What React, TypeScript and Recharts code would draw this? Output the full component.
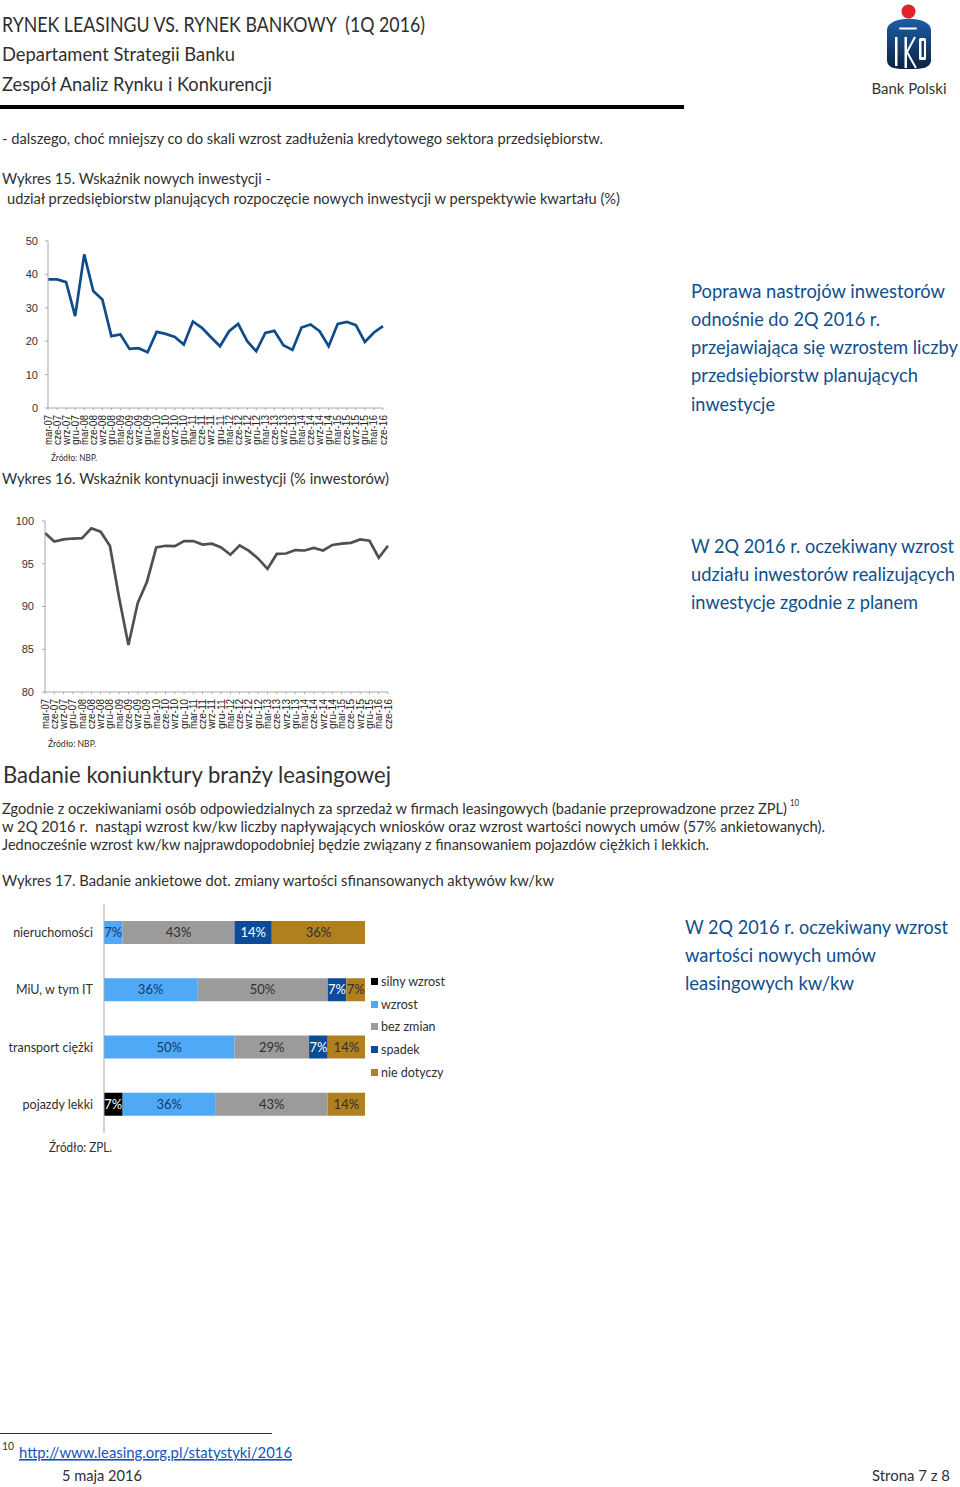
import { LineChart, Line, XAxis, YAxis, BarChart, Bar, LabelList, Legend } from 'recharts';

const quarters = [
  'mar-07', 'cze-07', 'wrz-07', 'gru-07', 'mar-08', 'cze-08', 'wrz-08', 'gru-08',
  'mar-09', 'cze-09', 'wrz-09', 'gru-09', 'mar-10', 'cze-10', 'wrz-10', 'gru-10',
  'mar-11', 'cze-11', 'wrz-11', 'gru-11', 'mar-12', 'cze-12', 'wrz-12', 'gru-12',
  'mar-13', 'cze-13', 'wrz-13', 'gru-13', 'mar-14', 'cze-14', 'wrz-14', 'gru-14',
  'mar-15', 'cze-15', 'wrz-15', 'gru-15', 'mar-16', 'cze-16'
];
const newInvestment = [
  38.5, 38.5, 37.7, 27.5, 46, 35, 32.5, 21.5, 22, 17.7, 17.9, 16.7, 22.8, 22.2, 21.3, 19,
  25.9, 24, 21.2, 18.5, 23, 25.2, 20, 17, 22.5, 23.1, 18.8, 17.4, 24.1, 25, 23, 18.5,
  25.2, 25.8, 24.8, 19.8, 22.6, 24.5
];
const continuedInvestment = [
  98.6, 97.6, 97.85, 97.95, 98, 99.15, 98.75, 97.1, 91, 85.5, 90.4, 92.9, 96.9, 97.1, 97.05, 97.65,
  97.65, 97.25, 97.35, 96.9, 96.05, 97.15, 96.5, 95.6, 94.4, 96.15, 96.2, 96.6, 96.55, 96.85, 96.55, 97.2,
  97.35, 97.45, 97.85, 97.7, 95.7, 97.1
];
const ticksNew = [0, 10, 20, 30, 40, 50];
const ticksContinued = [80, 85, 90, 95, 100];

const assetTypes = ['nieruchomości', 'MiU, w tym IT', 'transport ciężki', 'pojazdy lekki'];
const strongGrowth = [0, 0, 0, 7.14];
const growth = [7.14, 35.71, 50, 35.71];
const noChange = [42.86, 50, 28.57, 42.86];
const decline = [14.29, 7.14, 7.14, 0];
const notApplicable = [35.71, 7.14, 14.29, 14.29];

const newData = quarters.map((q, i) => ({ q, value: newInvestment[i] }));
const continuedData = quarters.map((q, i) => ({ q, value: continuedInvestment[i] }));
const surveyData = assetTypes.map((name, i) => ({
  name,
  s: strongGrowth[i],
  g: growth[i],
  n: noChange[i],
  d: decline[i],
  a: notApplicable[i]
}));

const DOC_FONT = 'Lato, sans-serif';
const AXIS_FONT = '"Liberation Sans", sans-serif';
const TEXT = '#2f2f2f';
const BLUE_TEXT = '#114f8c';
const AXIS = '#a9a9a9';
const SIDE_SIZE = 18.5;

const T = ({ x, x2, y, size = 14.5, fill = TEXT, children, deco }: any) => (
  <text
    x={x}
    y={y}
    fontSize={size}
    fill={fill}
    fontFamily={DOC_FONT}
    textLength={x2 - x}
    lengthAdjust="spacingAndGlyphs"
    textDecoration={deco}
    xmlSpace="preserve"
  >
    {children}
  </text>
);

const QuarterTick = ({ x, y, payload }: any) => (
  <text
    transform={`translate(${x + 3.5},${y + 3}) rotate(-90)`}
    textAnchor="end"
    fontSize={11}
    fill="#222"
    fontFamily={AXIS_FONT}
    textLength={30}
    lengthAdjust="spacingAndGlyphs"
  >
    {payload.value}
  </text>
);

const pct = (v: any) => (v > 0 ? `${Math.round(v)}%` : '');

const SurveyLegend = ({ payload }: any) => (
  <div>
    {(payload || []).map((item: any) => (
      <div key={item.value} style={{ height: 22.7, display: 'flex', alignItems: 'center', fontFamily: DOC_FONT, fontSize: 12.5, color: TEXT, whiteSpace: 'nowrap' }}>
        <span style={{ width: 7, height: 7, background: item.color, marginRight: 3 }} />
        {item.value}
      </div>
    ))}
  </div>
);

const Logo = () => (
  <svg style={{ position: 'absolute', left: 870, top: 0 }} width={80} height={100}>
    <defs>
      <linearGradient id="pko" x1="0" y1="0" x2="0" y2="1">
        <stop offset="0" stopColor="#1b5ea6" />
        <stop offset="1" stopColor="#0c2341" />
      </linearGradient>
    </defs>
    <circle cx={38.5} cy={11.5} r={7} fill="#e3222b" />
    <path d="M17 30 C17 15 61 15 61 30 L61 60 C61 70 46 69 38.5 69 C31 69 17 70 17 60 Z" fill="url(#pko)" />
    <rect x={29} y={27.5} width={18} height={2} rx={1} fill="#fff" />
    <rect x={25} y={37} width={2.5} height={29} fill="#fff" />
    <rect x={34.5} y={37} width={2.5} height={31} fill="#fff" />
    <path d="M37 52 L45 37 M37 52 L46 68" stroke="#fff" strokeWidth={2} />
    <rect x={49} y={38} width={7} height={22} rx={1.5} fill="#fff" />
    <rect x={51.5} y={41} width={2.5} height={16} fill="#123c70" />
    <text x={39} y={94} textAnchor="middle" fontSize={14.5} fill="#333" fontFamily={DOC_FONT} textLength={75} lengthAdjust="spacingAndGlyphs">
      Bank Polski
    </text>
  </svg>
);

const PageText = () => (
  <svg style={{ position: 'absolute', left: 0, top: 0 }} width={960} height={1487}>
    <T x={2} x2={425} y={32} size={21}>RYNEK LEASINGU VS. RYNEK BANKOWY  (1Q 2016)</T>
    <T x={2} x2={235} y={61} size={20}>Departament Strategii Banku</T>
    <T x={2} x2={272} y={91} size={20}>Zespół Analiz Rynku i Konkurencji</T>
    <rect x={0} y={105} width={684} height={4} fill="#000" />

    <T x={2} x2={603} y={144}>- dalszego, choć mniejszy co do skali wzrost zadłużenia kredytowego sektora przedsiębiorstw.</T>
    <T x={2} x2={271} y={184}>Wykres 15. Wskaźnik nowych inwestycji -</T>
    <T x={7} x2={620} y={204}>udział przedsiębiorstw planujących rozpoczęcie nowych inwestycji w perspektywie kwartału (%)</T>

    <T x={691} x2={945} y={298} size={SIDE_SIZE} fill={BLUE_TEXT}>Poprawa nastrojów inwestorów</T>
    <T x={691} x2={880} y={326} size={SIDE_SIZE} fill={BLUE_TEXT}>odnośnie do 2Q 2016 r.</T>
    <T x={691} x2={958} y={354} size={SIDE_SIZE} fill={BLUE_TEXT}>przejawiająca się wzrostem liczby</T>
    <T x={691} x2={918} y={382} size={SIDE_SIZE} fill={BLUE_TEXT}>przedsiębiorstw planujących</T>
    <T x={691} x2={775} y={411} size={SIDE_SIZE} fill={BLUE_TEXT}>inwestycje</T>

    <T x={51} x2={97} y={461} size={9.5}>Źródło: NBP.</T>
    <T x={2} x2={389} y={484}>Wykres 16. Wskaźnik kontynuacji inwestycji (% inwestorów)</T>

    <T x={691} x2={954} y={553} size={SIDE_SIZE} fill={BLUE_TEXT}>W 2Q 2016 r. oczekiwany wzrost</T>
    <T x={691} x2={955} y={581} size={SIDE_SIZE} fill={BLUE_TEXT}>udziału inwestorów realizujących</T>
    <T x={691} x2={918} y={609} size={SIDE_SIZE} fill={BLUE_TEXT}>inwestycje zgodnie z planem</T>

    <T x={48} x2={96} y={747} size={9.5}>Źródło: NBP.</T>
    <T x={3} x2={391} y={783} size={23.5}>Badanie koniunktury branży leasingowej</T>

    <T x={2} x2={787} y={814}>Zgodnie z oczekiwaniami osób odpowiedzialnych za sprzedaż w firmach leasingowych (badanie przeprowadzone przez ZPL)</T>
    <T x={790} x2={799} y={806} size={9}>10</T>
    <T x={2} x2={825} y={832}>w 2Q 2016 r.  nastąpi wzrost kw/kw liczby napływających wniosków oraz wzrost wartości nowych umów (57% ankietowanych).</T>
    <T x={2} x2={709} y={850}>Jednocześnie wzrost kw/kw najprawdopodobniej będzie związany z finansowaniem pojazdów ciężkich i lekkich.</T>
    <T x={2} x2={554} y={886}>Wykres 17. Badanie ankietowe dot. zmiany wartości sfinansowanych aktywów kw/kw</T>

    <T x={685} x2={948} y={934} size={SIDE_SIZE} fill={BLUE_TEXT}>W 2Q 2016 r. oczekiwany wzrost</T>
    <T x={685} x2={876} y={962} size={SIDE_SIZE} fill={BLUE_TEXT}>wartości nowych umów</T>
    <T x={685} x2={854} y={990} size={SIDE_SIZE} fill={BLUE_TEXT}>leasingowych kw/kw</T>

    <T x={49} x2={112} y={1152} size={12.5}>Źródło: ZPL.</T>

    <rect x={0} y={1433} width={272} height={1} fill="#333" />
    <T x={2} x2={14} y={1450} size={11}>10</T>
    <T x={19} x2={292} y={1458} size={16} fill="#1155bb" deco="underline">http://www.leasing.org.pl/statystyki/2016</T>
    <T x={62} x2={142} y={1481} size={15}>5 maja 2016</T>
    <T x={872} x2={950} y={1481} size={15}>Strona 7 z 8</T>
  </svg>
);

const App = () => {
  return (
    <div style={{ position: 'absolute', left: 0, top: 0, width: 960, height: 1487, background: '#fff', overflow: 'hidden' }}>
      <PageText />
      <Logo />

      <div style={{ position: 'absolute', left: 0, top: 230 }}>
        <LineChart width={400} height={230} data={newData} margin={{ top: 11, right: 17, bottom: 0, left: 0 }}>
          <XAxis dataKey="q" interval={0} height={52} tick={<QuarterTick />} stroke={AXIS} tickSize={2} />
          <YAxis
            domain={[0, 50]}
            ticks={ticksNew}
            width={48}
            tick={{ fontSize: 11, fill: '#333', fontFamily: AXIS_FONT }}
            stroke={AXIS}
            tickSize={3}
            tickMargin={7}
          />
          <Line dataKey="value" stroke="#0f4c8a" strokeWidth={2.7} dot={false} isAnimationActive={false} />
        </LineChart>
      </div>

      <div style={{ position: 'absolute', left: 0, top: 510 }}>
        <LineChart width={400} height={230} data={continuedData} margin={{ top: 11, right: 12, bottom: 0, left: 0 }}>
          <XAxis dataKey="q" interval={0} height={48} tick={<QuarterTick />} stroke={AXIS} tickSize={2} />
          <YAxis
            domain={[80, 100]}
            ticks={ticksContinued}
            width={45}
            tick={{ fontSize: 11, fill: '#333', fontFamily: AXIS_FONT }}
            stroke={AXIS}
            tickSize={3}
            tickMargin={8}
          />
          <Line dataKey="value" stroke="#505050" strokeWidth={2.7} dot={false} isAnimationActive={false} />
        </LineChart>
      </div>

      <div style={{ position: 'absolute', left: 0, top: 900 }}>
        <BarChart
          width={460}
          height={240}
          data={surveyData}
          layout="vertical"
          barSize={23}
          margin={{ top: 4, right: 5, bottom: 7, left: 0 }}
        >
          <XAxis type="number" hide domain={[0, 100]} />
          <YAxis
            type="category"
            dataKey="name"
            width={104}
            interval={0}
            tick={{ fontSize: 12.5, fill: TEXT, fontFamily: DOC_FONT }}
            stroke={AXIS}
            tickSize={0}
            tickMargin={11}
          />
          <Legend
            layout="vertical"
            align="right"
            verticalAlign="middle"
            itemSorter={null}
            content={<SurveyLegend />}
            wrapperStyle={{ position: 'absolute', left: 371, top: 70, width: 90 }}
          />
          <Bar dataKey="s" name="silny wzrost" stackId="a" fill="#000000" isAnimationActive={false}>
            <LabelList dataKey="s" position="center" formatter={pct} fontSize={13} fill="#fff" fontFamily={DOC_FONT} />
          </Bar>
          <Bar dataKey="g" name="wzrost" stackId="a" fill="#4fa9f6" isAnimationActive={false}>
            <LabelList dataKey="g" position="center" formatter={pct} fontSize={13} fill="#123a66" fontFamily={DOC_FONT} />
          </Bar>
          <Bar dataKey="n" name="bez zmian" stackId="a" fill="#9b9b9b" isAnimationActive={false}>
            <LabelList dataKey="n" position="center" formatter={pct} fontSize={13} fill="#2f2f2f" fontFamily={DOC_FONT} />
          </Bar>
          <Bar dataKey="d" name="spadek" stackId="a" fill="#0b4b98" isAnimationActive={false}>
            <LabelList dataKey="d" position="center" formatter={pct} fontSize={13} fill="#fff" fontFamily={DOC_FONT} />
          </Bar>
          <Bar dataKey="a" name="nie dotyczy" stackId="a" fill="#b0801f" isAnimationActive={false}>
            <LabelList dataKey="a" position="center" formatter={pct} fontSize={13} fill="#2f2f2f" fontFamily={DOC_FONT} />
          </Bar>
        </BarChart>
      </div>
    </div>
  );
};

export default App;
